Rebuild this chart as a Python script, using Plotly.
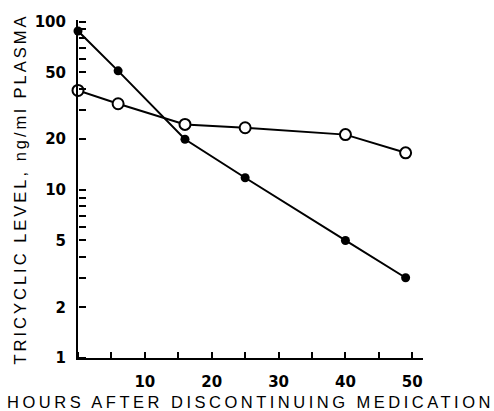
import plotly.graph_objects as go

hours = [0, 6, 16, 25, 40, 49]
filled_vals = [88, 51, 20, 11.8, 5.0, 3.0]
open_vals = [39, 32.5, 24.5, 23.4, 21.3, 16.6]

x_label_ticks = [10, 20, 30, 40, 50]
x_mark_ticks = [0, 5, 10, 15, 20, 25, 30, 35, 40, 45, 50]
y_label_ticks = [1, 2, 5, 10, 20, 50, 100]
y_label_text = ["1", "2", "5", "10", "20", "50", "100"]
y_mark_ticks = [1, 2, 3, 4, 5, 6, 7, 8, 9, 10, 20, 30, 40, 50, 60, 70, 80, 90, 100]

x_title = "HOURS AFTER DISCONTINUING MEDICATION"
y_title = "TRICYCLIC LEVEL, ng/ml PLASMA"

X_RANGE = [0, 51.6]
Y_RANGE = [0, 2.01]  # log10 units

fig = go.Figure()
fig.add_trace(go.Scatter(x=hours, y=open_vals, mode="lines+markers",
                         line=dict(color="black", width=2),
                         marker=dict(symbol="circle", size=11, color="white",
                                     line=dict(color="black", width=2)),
                         cliponaxis=False, showlegend=False,
                         xaxis="x", yaxis="y"))
fig.add_trace(go.Scatter(x=hours, y=filled_vals, mode="lines+markers",
                         line=dict(color="black", width=2),
                         marker=dict(symbol="circle", size=9, color="black"),
                         cliponaxis=False, showlegend=False,
                         xaxis="x2", yaxis="y2"))

font_family = "Liberation Sans, Arial, sans-serif"
tick_family = "DejaVu Sans, sans-serif"
clear = "rgba(0,0,0,0)"
fig.update_layout(
    width=494, height=411,
    margin=dict(l=78, r=71, t=20, b=53),
    plot_bgcolor="white", paper_bgcolor="white",
    font=dict(family=font_family, color="black"),
    xaxis=dict(
        range=X_RANGE, showgrid=False, zeroline=False, automargin=False,
        showline=True, linecolor="black", linewidth=2,
        tickmode="array", tickvals=x_label_ticks,
        ticks="outside", ticklen=9, tickcolor=clear,
        tickfont=dict(size=15, family=tick_family, weight="bold"),
        title=dict(text='<span style="letter-spacing:3.5px">' + x_title + '</span>',
                   font=dict(size=16.5, family=font_family), standoff=17),
    ),
    yaxis=dict(
        type="log", range=Y_RANGE, showgrid=False, zeroline=False, automargin=False,
        showline=True, linecolor="black", linewidth=2,
        tickmode="array", tickvals=y_label_ticks, ticktext=y_label_text,
        ticks="outside", ticklen=7, tickcolor=clear,
        tickfont=dict(size=15, family=tick_family, weight="bold"),
        title=dict(text='<span style="letter-spacing:3px">' + y_title + '</span>',
                   font=dict(size=16.5, family=font_family), standoff=4),
    ),
    xaxis2=dict(
        range=X_RANGE, overlaying="x", side="top", anchor="free", position=0,
        showgrid=False, zeroline=False, showline=False, automargin=False,
        tickmode="array", tickvals=x_mark_ticks, showticklabels=False,
        ticks="outside", ticklen=6, tickwidth=2, tickcolor="black",
    ),
    yaxis2=dict(
        type="log", range=Y_RANGE, overlaying="y", side="right", anchor="free",
        position=0, showgrid=False, zeroline=False, showline=False, automargin=False,
        tickmode="array", tickvals=y_mark_ticks, showticklabels=False,
        ticks="outside", ticklen=7, tickwidth=2, tickcolor="black",
    ),
)
fig.write_html("out.html")
